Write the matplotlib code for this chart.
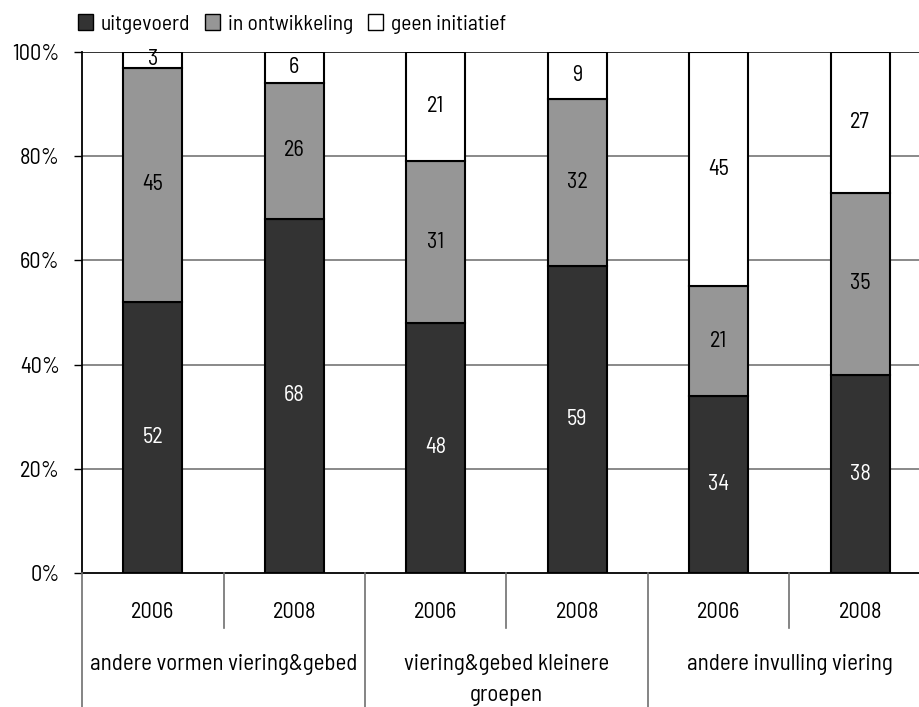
import numpy as np
import matplotlib
matplotlib.use('Agg')
import matplotlib.pyplot as plt
from matplotlib.lines import Line2D
from matplotlib.patches import Patch
import matplotlib.transforms as mtrans

plt.rcParams['font.family'] = ['Barlow Semi Condensed', 'DejaVu Sans']

years = ['2006', '2008', '2006', '2008', '2006', '2008']
groups = ['andere vormen viering&gebed', 'viering&gebed kleinere\ngroepen', 'andere invulling viering']
series = ['uitgevoerd', 'in ontwikkeling', 'geen initiatief']
uitgevoerd = [52, 68, 48, 59, 34, 38]
in_ontwikkeling = [45, 26, 31, 32, 21, 35]
geen_initiatief = [3, 6, 21, 9, 45, 27]
yticks = [0, 20, 40, 60, 80, 100]

colors = ['#333333', '#969696', '#ffffff']
txtcolors = ['white', 'black', 'black']
fs = 15.5

W, H = 919, 707
fig = plt.figure(figsize=(W / 100, H / 100), dpi=100)
ax = fig.add_axes([82 / W, 1 - 573 / H, (931 - 82) / W, (573 - 52) / H])

x = np.arange(len(years))
bottom = np.zeros(len(years))
for vals, c, tc in zip([uitgevoerd, in_ontwikkeling, geen_initiatief], colors, txtcolors):
    vals = np.array(vals, dtype=float)
    ax.bar(x, vals, bottom=bottom, width=0.417, color=c, edgecolor='black', linewidth=1.5, zorder=3)
    for xi, b, v in zip(x, bottom, vals):
        ax.text(xi, b + v / 2, str(int(v)), ha='center', va='center', color=tc, fontsize=16, zorder=4)
    bottom += vals

ax.set_xlim(-0.5, 5.5)
ax.set_ylim(0, 100)
ax.set_yticks(yticks)
ax.set_yticklabels(['%d%%' % t for t in yticks], fontsize=16)
ax.tick_params(axis='y', length=6, width=1, pad=10)
ax.set_xticks([])
for t in yticks[1:]:
    ax.axhline(t, color='#808080' if t < 100 else '#222222', lw=1.3, zorder=1)
ax.spines['top'].set_visible(False)
ax.spines['right'].set_visible(False)
ax.spines['left'].set_linewidth(1.3)
ax.spines['bottom'].set_linewidth(1.3)

# category table below the axis
tr = mtrans.blended_transform_factory(ax.transData, fig.transFigure)
for xi, yr in zip(x, years):
    ax.text(xi, 1 - 612 / H, yr, transform=tr, ha='center', va='center', fontsize=16)
for gi, g in enumerate(groups):
    ax.text(2 * gi + 0.5, 1 - 654 / H, g, transform=tr, ha='center', va='top', fontsize=16.5,
            linespacing=1.65)
for xs in [0.5, 2.5, 4.5]:
    fig.add_artist(Line2D([xs, xs], [1 - 573 / H, 1 - 628 / H], transform=tr, color='#707070', lw=1.2))
for xs in [-0.5, 1.5, 3.5, 5.5]:
    fig.add_artist(Line2D([xs, xs], [1 - 573 / H, 0], transform=tr, color='#707070', lw=1.2))

handles = [Patch(facecolor=c, edgecolor='black', linewidth=1) for c in colors]
fig.legend(handles, series, loc='center left', bbox_to_anchor=(78 / W, 1 - 24 / H), ncol=3,
           frameon=False, fontsize=fs, handlelength=0.7, handleheight=0.7, handletextpad=0.35,
           columnspacing=0.7, borderpad=0, borderaxespad=0)

fig.savefig('out.png', dpi=100)
